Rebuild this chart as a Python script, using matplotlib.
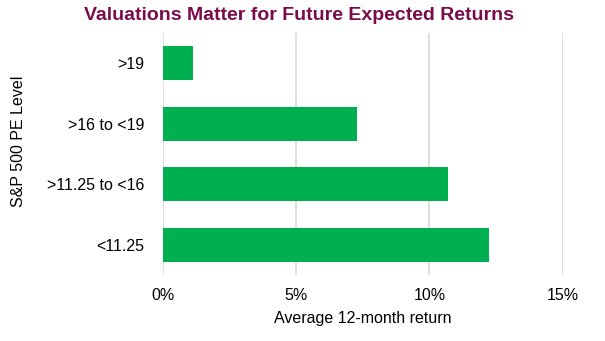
import matplotlib
matplotlib.use("Agg")
import matplotlib.pyplot as plt
from matplotlib.ticker import FuncFormatter

# average 12-month return by starting S&P 500 PE bucket
pe_levels = [">19", ">16 to <19", ">11.25 to <16", "<11.25"]
avg_return = [1.15, 7.3, 10.7, 12.25]
x_ticks = [0, 5, 10, 15]

plt.rcParams['font.family'] = ['Liberation Sans', 'DejaVu Sans']

fig = plt.figure(figsize=(6.05, 3.41), dpi=100)
ax = fig.add_axes([0.269, 0.1935, 0.661, 0.7095])

ax.barh(range(len(pe_levels)), avg_return, height=0.56, color='#00B050', zorder=3)
ax.set_yticks(range(len(pe_levels)))
ax.set_yticklabels(pe_levels)
ax.set_ylim(3.5, -0.5)

ax.set_xlim(0, 15)
ax.set_xticks(x_ticks)
ax.xaxis.set_major_formatter(FuncFormatter(lambda v, p: f"{v:.0f}%"))
ax.grid(axis='x', color='#D9D9D9', linewidth=1.2, zorder=0)
ax.set_axisbelow(True)

for s in ax.spines.values():
    s.set_visible(False)
ax.tick_params(length=0, labelsize=11.5, colors='#000000')
ax.tick_params(axis='y', pad=13)
ax.tick_params(axis='x', pad=9)

ax.set_xlabel("Average 12-month return", fontsize=11.5, labelpad=6)
fig.text(0.03, 0.585, "S&P 500 PE Level", rotation=90, fontsize=11.5,
         ha='center', va='center')

fig.text(0.494, 0.954, "Valuations Matter for Future Expected Returns",
         ha='center', va='center', fontsize=14, fontweight='bold', color='#7A0C4C')

fig.savefig("out.png", dpi=100)
